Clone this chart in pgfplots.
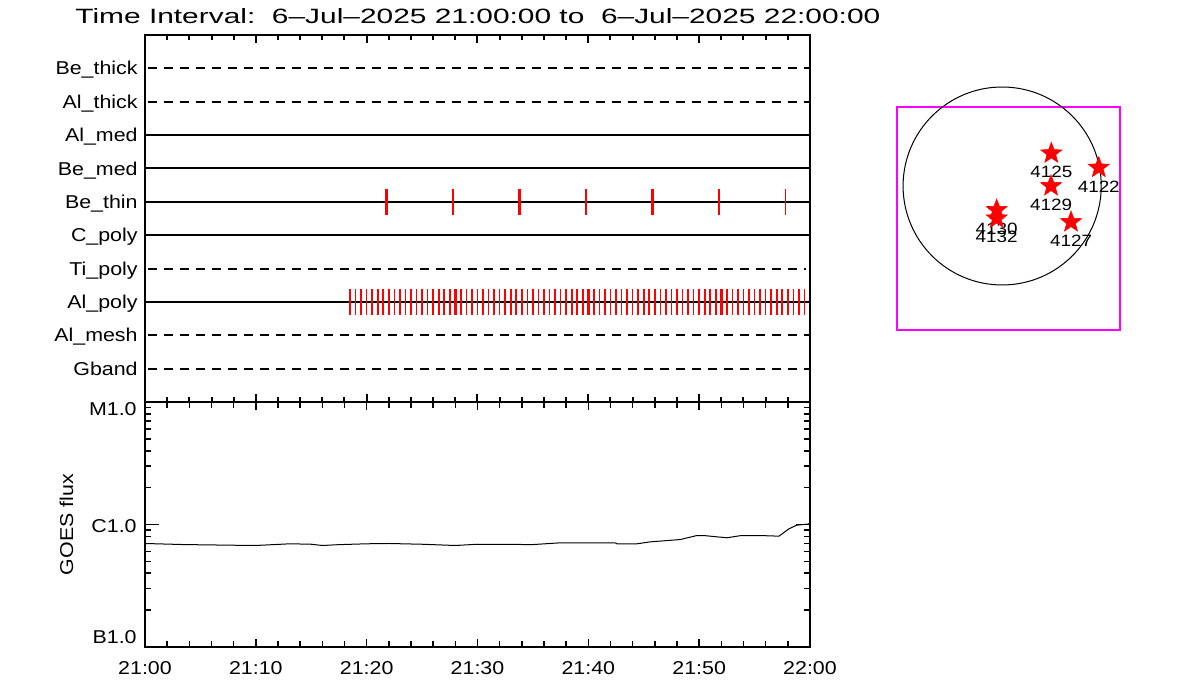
\documentclass[border=0pt]{standalone}
\usepackage{fontspec}
\setmainfont{Liberation Sans}[FakeStretch=1.15]
\usepackage{graphicx}
\usepackage{pgfplots}
\pgfplotsset{compat=1.18}
\definecolor{pureRed}{RGB}{255,0,0}
\definecolor{pureMag}{RGB}{255,0,255}

\pgfdeclareplotmark{fstar}{%
 \pgfpathmoveto{\pgfpointpolar{90}{\pgfplotmarksize}}%
 \pgfpathlineto{\pgfpointpolar{126}{0.42\pgfplotmarksize}}%
 \pgfpathlineto{\pgfpointpolar{162}{\pgfplotmarksize}}%
 \pgfpathlineto{\pgfpointpolar{198}{0.42\pgfplotmarksize}}%
 \pgfpathlineto{\pgfpointpolar{234}{\pgfplotmarksize}}%
 \pgfpathlineto{\pgfpointpolar{270}{0.42\pgfplotmarksize}}%
 \pgfpathlineto{\pgfpointpolar{306}{\pgfplotmarksize}}%
 \pgfpathlineto{\pgfpointpolar{342}{0.42\pgfplotmarksize}}%
 \pgfpathlineto{\pgfpointpolar{18}{\pgfplotmarksize}}%
 \pgfpathlineto{\pgfpointpolar{54}{0.42\pgfplotmarksize}}%
 \pgfpathclose
 \pgfusepathqfillstroke}

% thin vertical event tick drawn as a filled bar
\pgfdeclareplotmark{vbar}{%
 \pgfpathrectanglecorners{\pgfpoint{-0.4pt}{-\pgfplotmarksize}}{\pgfpoint{0.4pt}{\pgfplotmarksize}}%
 \pgfusepathqfill}
\pgfdeclareplotmark{vbarthick}{%
 \pgfpathrectanglecorners{\pgfpoint{-0.6pt}{-\pgfplotmarksize}}{\pgfpoint{0.6pt}{\pgfplotmarksize}}%
 \pgfusepathqfill}

\newcommand{\lblfont}{\fontsize{9.3}{11}\selectfont}

\begin{document}
\begin{tikzpicture}[x=1pt,y=1pt]
\path[use as bounding box] (0,0) rectangle (600,350);
\node[anchor=base west, inner sep=0pt] at (37.5,338)
  {\resizebox{402.5pt}{7.5pt}{Time Interval:\ \ 6--Jul--2025 21:00:00 to\ \ 6--Jul--2025 22:00:00}};

% ---------------- top panel ----------------
\begin{axis}[
  at={(72.5pt,149pt)}, anchor=south west, scale only axis,
  width=332.5pt, height=183.5pt,
  xmin=0, xmax=60, ymin=0, ymax=11,
  axis line style={line width=1pt},
  xtick={0,10,...,60}, xticklabels={}, minor x tick num=4,
  xtick pos=both, tick align=inside,
  major tick length=4pt, minor tick length=2.5pt,
  every tick/.style={black, line width=1pt},
  ytick={1,...,10},
  yticklabels={Gband,Al\_mesh,Al\_poly,Ti\_poly,C\_poly,Be\_thin,Be\_med,Al\_med,Al\_thick,Be\_thick},
  ytick style={draw=none},
  yticklabel style={anchor=base east, inner sep=0pt, xshift=-3.5pt, yshift=-3.3pt, font=\lblfont},
]
% dashed rows
\addplot[black, line width=1pt, dash pattern=on 4.5pt off 3.5pt] coordinates {(0.3,10) (60,10)};
\addplot[black, line width=1pt, dash pattern=on 4.5pt off 3.5pt] coordinates {(0.3,9) (60,9)};
\addplot[black, line width=1pt, dash pattern=on 4.5pt off 3.5pt] coordinates {(0.3,4) (59.6,4)};
\addplot[black, line width=1pt, dash pattern=on 4.5pt off 3.5pt] coordinates {(0.3,2) (60,2)};
\addplot[black, line width=1pt, dash pattern=on 4.5pt off 3.5pt] coordinates {(0.3,1) (60,1)};
% solid rows
\addplot[black, line width=1pt] coordinates {(0,8) (60,8)};
\addplot[black, line width=1pt] coordinates {(0,7) (60,7)};
\addplot[black, line width=1pt] coordinates {(0,6) (60,6)};
\addplot[black, line width=1pt] coordinates {(0,5) (60,5)};
\addplot[black, line width=1pt] coordinates {(0,3) (60,3)};
% Be_thin events
\addplot[pureRed, only marks, mark=vbarthick, mark size=6.5pt, mark options={fill=pureRed, draw=none}]
  coordinates {(21.8,6) (33.8,6) (45.8,6) (51.8,6)};
\addplot[pureRed, only marks, mark=vbar, mark size=6.5pt, mark options={fill=pureRed, draw=none}]
  coordinates {(27.8,6) (39.8,6) (57.8,6)};
% Al_poly events
\addplot[pureRed, only marks, mark=vbar, mark size=6.5pt, mark options={fill=pureRed, draw=none}]
  coordinates {
  (18.5,3) (19,3) (19.5,3) (20,3) (20.5,3) (21,3) (21.5,3)
  (22.5,3) (23,3) (23.5,3) (24,3) (24.5,3) (25,3) (25.5,3) (26,3) (26.5,3) (27,3) (27.5,3)
  (28.5,3) (29,3) (29.5,3) (30,3) (30.5,3) (31,3) (31.5,3) (32,3) (32.5,3) (33,3) (33.5,3)
  (34.5,3) (35,3) (35.5,3) (36,3) (36.5,3) (37,3) (37.5,3) (38,3) (38.5,3) (39,3) (39.5,3)
  (40.5,3) (41,3) (41.5,3) (42,3) (42.5,3) (43,3) (43.5,3) (44,3) (44.5,3) (45,3) (45.5,3)
  (46.5,3) (47,3) (47.5,3) (48,3) (48.5,3) (49,3) (49.5,3) (50,3) (50.5,3) (51,3) (51.5,3)
  (52.5,3) (53,3) (53.5,3) (54,3) (54.5,3) (55,3) (55.5,3) (56,3) (56.5,3) (57,3) (57.5,3)
  (58.5,3) (59,3) (59.5,3)};
\addplot[pureRed, only marks, mark=vbarthick, mark size=6.5pt, mark options={fill=pureRed, draw=none}]
  coordinates {(22,3) (28,3) (34,3) (40,3) (46,3) (52,3) (58,3)};
\end{axis}

% ---------------- bottom panel ----------------
\begin{axis}[
  at={(72.5pt,26.5pt)}, anchor=south west, scale only axis,
  width=332.5pt, height=122.5pt,
  xmin=0, xmax=60, ymode=log, ymin=1e-7, ymax=1e-5,
  axis line style={line width=1pt},
  xtick={0,10,...,60},
  xticklabels={21:00,21:10,21:20,21:30,21:40,21:50,22:00},
  minor x tick num=4,
  xtick pos=both, ytick pos=both, xticklabel pos=left, yticklabel pos=left,
  tick align=inside,
  major tick length=4pt, minor tick length=3pt,
  every tick/.style={black, line width=0.8pt},
  ytick={1e-7,1e-6,1e-5},
  yticklabels={\raisebox{5pt}{B1.0},\raisebox{-0.5pt}{C1.0},\raisebox{-3.5pt}{M1.0}},
  extra y ticks={1e-6}, extra y tick labels={},
  extra y tick style={major tick length=7pt},
  yticklabel style={anchor=base east, inner sep=0pt, xshift=-4pt, yshift=-3.3pt, font=\lblfont},
  xticklabel style={anchor=base, inner sep=0pt, yshift=-13.65pt, font=\lblfont},
  ylabel={GOES flux},
  ylabel style={at={(axis description cs:-0.118,0.5)}, anchor=center, font=\lblfont},
]
\addplot[black, line width=0.5pt] coordinates {
 (0,7.0e-7) (3.5,6.86e-7) (9.8,6.74e-7) (10.4,6.77e-7) (13.1,6.96e-7)
 (15,6.9e-7) (16,6.74e-7) (17.5,6.85e-7) (20,6.96e-7) (22,7.0e-7)
 (25,6.9e-7) (28,6.74e-7) (30,6.9e-7) (35,6.86e-7) (37.5,7.09e-7)
 (42.4,7.09e-7) (42.6,6.96e-7) (44.4,6.96e-7) (45.6,7.22e-7) (48.3,7.54e-7)
 (49.8,8.13e-7) (50.4,8.13e-7) (52.5,7.79e-7) (53.8,8.13e-7) (55.5,8.13e-7)
 (57.2,8.03e-7) (58.1,9.22e-7) (58.8,9.87e-7) (60,1.013e-6)};
\end{axis}

% ---------------- right panel ----------------
\begin{axis}[
  at={(448.5pt,185pt)}, anchor=south west, scale only axis,
  width=111.5pt, height=111.5pt,
  xmin=-1020, xmax=1143, ymin=-1398, ymax=767,
  axis line style={pureMag, line width=0.8pt},
  ticks=none, clip=false,
]
\draw[black, line width=0.5pt] (axis cs:0,0) circle[radius=961];
\addplot[pureRed, only marks, mark=fstar, mark size=5.5pt, mark options={fill=pureRed, draw=pureRed, line width=0.3pt},
  point meta=explicit symbolic, nodes near coords,
  every node near coord/.append style={anchor=center, yshift=-9.5pt, text=black, inner sep=0pt, font=\fontsize{8.2}{10}\selectfont}]
  table[meta=lab] {
x y lab
477 317 4125
937 178 4122
474 0 4129
668 -350 4127
-53 -233 4130
-53 -314 4132
};
\end{axis}
\end{tikzpicture}
\end{document}
